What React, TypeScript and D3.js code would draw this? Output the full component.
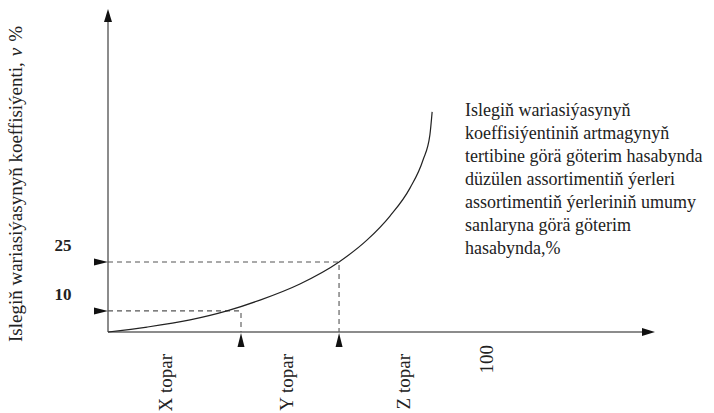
import React from "react";
import * as d3 from "d3";

// Schematic curve (x: % of assortment places, y: coefficient of variation)
const curveX = [0, 10.3, 21.6, 31.3, 40, 50.5, 60.8, 68.2, 74.2, 79.5, 82.9, 84.7, 85.3];
const curveY = [0, 1.6, 3.9, 6.8, 10.3, 15.5, 22.6, 29.7, 37.4, 46.5, 55.5, 63.5, 71];

// Threshold markers (x position on curve, y level, label)
const markerX = [35, 60.8];
const markerY = [6.8, 22.6];
const markerLabels = ["10", "25"];

const groupLabels = ["X topar", "Y topar", "Z topar"];
const groupPos = [15.5, 47.4, 78.2];
const endTick = { label: "100", value: 100 };

const yTitle = "Islegiň wariasiýasynyň koeffisiýenti,";
const annotation = [
  "Islegiň wariasiýasynyň",
  "koeffisiýentiniň artmagynyň",
  "tertibine görä göterim hasabynda",
  "düzülen assortimentiň ýerleri",
  "assortimentiň ýerleriniň umumy",
  "sanlaryna görä göterim",
  "hasabynda,%",
];

const W = 714;
const H = 413;
const FONT = "'Liberation Serif', 'Times New Roman', serif";

export default function App() {
  const x = d3.scaleLinear().domain([0, 100]).range([108, 488]);
  const y = d3.scaleLinear().domain([0, 100]).range([332, 22]);
  const x0 = x(0);
  const y0 = y(0);
  const axisColor = "#666";
  const dashColor = "#555";

  const pts = curveX.map((v, i) => [x(v), y(curveY[i])] as [number, number]);
  const line = d3.line().curve(d3.curveMonotoneX)(pts) || "";

  return (
    <svg width={W} height={H} style={{ position: "absolute", left: 0, top: 0 }} fontFamily={FONT}>
      <rect width={W} height={H} fill="#fff" />
      {/* axes */}
      <line x1={x0} y1={y0} x2={x0} y2={20} stroke={axisColor} strokeWidth={1.5} />
      <path d={`M${x0},9 L${x0 - 4},22 L${x0 + 4},22 Z`} fill="#111" />
      <line x1={x0} y1={y0} x2={644} y2={y0} stroke={axisColor} strokeWidth={1.5} />
      <path d={`M655,${y0} L642,${y0 - 4} L642,${y0 + 4} Z`} fill="#111" />

      {/* dashed guides and markers */}
      {markerX.map((mx, i) => {
        const px = x(mx);
        const py = y(markerY[i]);
        return (
          <g key={i}>
            <path
              d={`M${x0},${py} L${px},${py} L${px},${y0}`}
              fill="none"
              stroke={dashColor}
              strokeWidth={1.1}
              strokeDasharray="5,4"
            />
            <path d={`M${x0},${py} L${x0 - 14},${py - 3.5} L${x0 - 14},${py + 3.5} Z`} fill="#111" />
            <path d={`M${px},${y0 + 1} L${px - 3.5},${y0 + 15} L${px + 3.5},${y0 + 15} Z`} fill="#111" />
            <text x={63} y={py - 11} textAnchor="middle" fontSize={17} fontWeight="bold" fill="#222">
              {markerLabels[i]}
            </text>
          </g>
        );
      })}

      {/* curve */}
      <path d={line} fill="none" stroke="#222" strokeWidth={1.2} />

      {/* x labels */}
      {groupLabels.map((g, i) => (
        <text
          key={g}
          transform={`translate(${x(groupPos[i]) + 5},354) rotate(-90)`}
          textAnchor="end"
          fontSize={19}
          fill="#222"
        >
          {g}
        </text>
      ))}
      <text
        transform={`translate(${x(endTick.value) + 5},345) rotate(-90)`}
        textAnchor="end"
        fontSize={19}
        fill="#222"
      >
        {endTick.label}
      </text>

      {/* y title */}
      <text transform="translate(22,342) rotate(-90)" fontSize={19} fill="#222">
        {yTitle}
        <tspan dx={6} fontStyle="italic">v</tspan>
        <tspan dx={6}>%</tspan>
      </text>

      {/* annotation */}
      {annotation.map((t, i) => (
        <text key={i} x={465} y={116 + i * 23} fontSize={18} fill="#222">
          {t}
        </text>
      ))}
    </svg>
  );
}
